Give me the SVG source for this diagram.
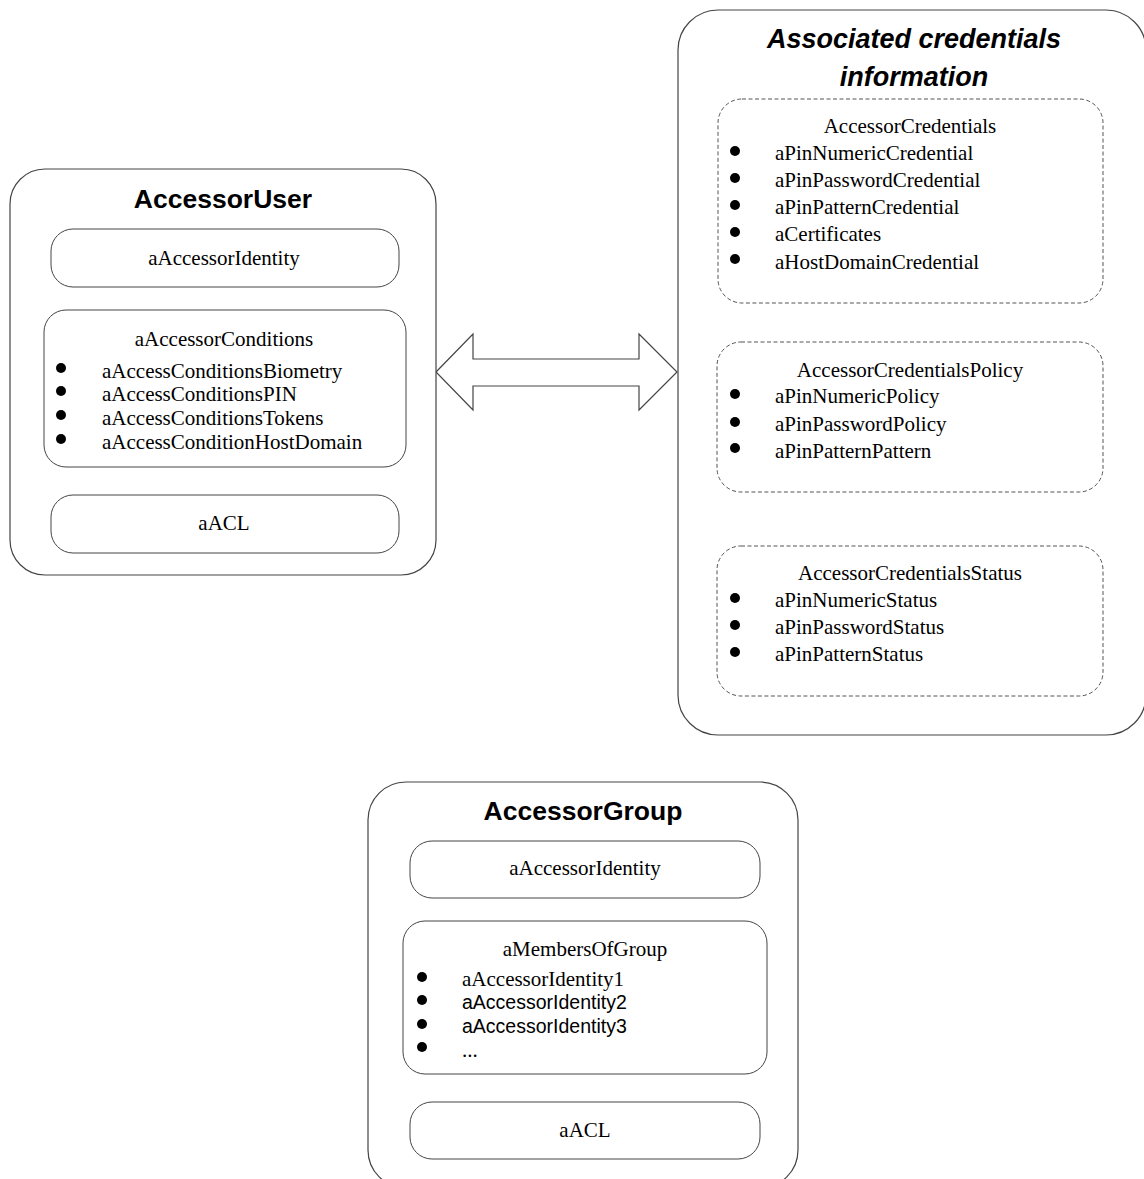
<svg xmlns="http://www.w3.org/2000/svg" width="1144" height="1179" viewBox="0 0 1144 1179">
<style>
.outer{fill:#fff;stroke:#444;stroke-width:1.2}
.inner{fill:#fff;stroke:#444;stroke-width:1}
.dash{fill:#fff;stroke:#555;stroke-width:1;stroke-dasharray:4 2.5}
.title{font-family:"Liberation Sans",Arial,sans-serif;font-weight:bold;font-size:26.5px;fill:#000;text-anchor:middle}
.ititle{font-family:"Liberation Sans",Arial,sans-serif;font-weight:bold;font-style:italic;font-size:27px;fill:#000;text-anchor:middle}
.t{font-family:"Liberation Serif","Times New Roman",serif;font-size:21px;fill:#000}
.c{text-anchor:middle}
.s{font-family:"Liberation Sans",Arial,sans-serif;font-size:19.5px;fill:#000}
.b{fill:#000}
</style>
<rect width="1144" height="1179" fill="#fff"/>

<g id="connectors">
<path d="M436,372 L473,334 L473,359 L639,359 L639,334 L677,372 L639,410 L639,386 L473,386 L473,410 Z" fill="#fff" stroke="#444" stroke-width="1.2"/>
</g>

<g id="accessor-user">
<rect class="outer" x="10" y="169" width="426" height="406" rx="35"/>
<text class="title" x="223" y="208">AccessorUser</text>
<g id="user-identity">
<rect class="inner" x="51" y="229" width="348" height="58" rx="22"/>
<text class="t c" x="224" y="265">aAccessorIdentity</text>
</g>
<g id="user-conditions">
<rect class="inner" x="44" y="310" width="362" height="157" rx="22"/>
<text class="t c" x="224" y="346">aAccessorConditions</text>
<circle class="b" cx="61" cy="368" r="5"/>
<circle class="b" cx="61" cy="391" r="5"/>
<circle class="b" cx="61" cy="415" r="5"/>
<circle class="b" cx="61" cy="439" r="5"/>
<text class="t" x="102" y="378">aAccessConditionsBiometry</text>
<text class="t" x="102" y="401">aAccessConditionsPIN</text>
<text class="t" x="102" y="425">aAccessConditionsTokens</text>
<text class="t" x="102" y="449">aAccessConditionHostDomain</text>
</g>
<g id="user-acl">
<rect class="inner" x="51" y="495" width="348" height="58" rx="22"/>
<text class="t c" x="224" y="530">aACL</text>
</g>
</g>

<g id="credentials-info">
<rect class="outer" x="678" y="10" width="468" height="725" rx="40"/>
<text class="ititle" x="914" y="48">Associated credentials</text>
<text class="ititle" x="914" y="86">information</text>
<g id="accessor-credentials">
<rect class="dash" x="718" y="99" width="385" height="204" rx="24"/>
<text class="t c" x="910" y="133">AccessorCredentials</text>
<circle class="b" cx="735" cy="151" r="5"/>
<circle class="b" cx="735" cy="178" r="5"/>
<circle class="b" cx="735" cy="205" r="5"/>
<circle class="b" cx="735" cy="232" r="5"/>
<circle class="b" cx="735" cy="259" r="5"/>
<text class="t" x="775" y="160">aPinNumericCredential</text>
<text class="t" x="775" y="187">aPinPasswordCredential</text>
<text class="t" x="775" y="214">aPinPatternCredential</text>
<text class="t" x="775" y="241">aCertificates</text>
<text class="t" x="775" y="269">aHostDomainCredential</text>
</g>
<g id="accessor-credentials-policy">
<rect class="dash" x="717" y="342" width="386" height="150" rx="24"/>
<text class="t c" x="910" y="377">AccessorCredentialsPolicy</text>
<circle class="b" cx="735" cy="394" r="5"/>
<circle class="b" cx="735" cy="422" r="5"/>
<circle class="b" cx="735" cy="448" r="5"/>
<text class="t" x="775" y="403">aPinNumericPolicy</text>
<text class="t" x="775" y="431">aPinPasswordPolicy</text>
<text class="t" x="775" y="458">aPinPatternPattern</text>
</g>
<g id="accessor-credentials-status">
<rect class="dash" x="717" y="546" width="386" height="150" rx="24"/>
<text class="t c" x="910" y="580">AccessorCredentialsStatus</text>
<circle class="b" cx="735" cy="598" r="5"/>
<circle class="b" cx="735" cy="625" r="5"/>
<circle class="b" cx="735" cy="652" r="5"/>
<text class="t" x="775" y="607">aPinNumericStatus</text>
<text class="t" x="775" y="634">aPinPasswordStatus</text>
<text class="t" x="775" y="661">aPinPatternStatus</text>
</g>
</g>

<g id="accessor-group">
<rect class="outer" x="368" y="782" width="430" height="406" rx="38"/>
<text class="title" x="583" y="820">AccessorGroup</text>
<g id="group-identity">
<rect class="inner" x="410" y="841" width="350" height="57" rx="22"/>
<text class="t c" x="585" y="875">aAccessorIdentity</text>
</g>
<g id="group-members">
<rect class="inner" x="403" y="921" width="364" height="153" rx="22"/>
<text class="t c" x="585" y="956">aMembersOfGroup</text>
<circle class="b" cx="422" cy="977" r="5"/>
<circle class="b" cx="422" cy="1000" r="5"/>
<circle class="b" cx="422" cy="1024" r="5"/>
<circle class="b" cx="422" cy="1047" r="5"/>
<text class="t" x="462" y="986">aAccessorIdentity1</text>
<text class="s" x="462" y="1009">aAccessorIdentity2</text>
<text class="s" x="462" y="1033">aAccessorIdentity3</text>
<text class="t" x="462" y="1057">...</text>
</g>
<g id="group-acl">
<rect class="inner" x="410" y="1102" width="350" height="57" rx="22"/>
<text class="t c" x="585" y="1137">aACL</text>
</g>
</g>
</svg>
